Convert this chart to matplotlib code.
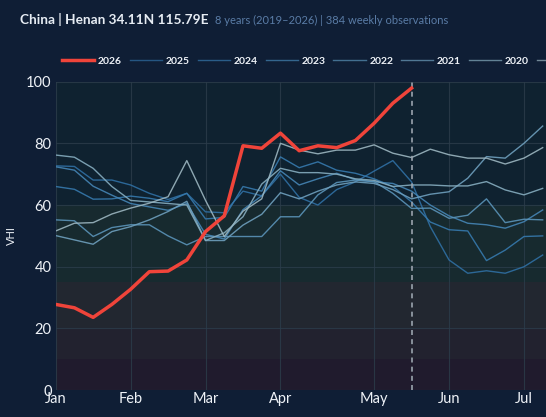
import numpy as np
import matplotlib.pyplot as plt
from matplotlib.lines import Line2D

# weekly VHI values, index 0 = first week of January
weeks_2026 = np.arange(20)
vhi_2026 = [27.8, 26.7, 23.6, 27.8, 32.7, 38.4, 38.6, 42.2, 51.4, 56.5,
            79.2, 78.4, 83.3, 77.6, 79.2, 78.6, 80.9, 86.5, 93.0, 97.9]

weeks_hist = np.arange(27)
vhi_2025 = [72.7, 72.5, 68.1, 68.1, 66.5, 63.8, 61.8, 63.8, 57.8, 57.5, 64.5, 63.0, 70.0, 62.5,
            60.0, 65.0, 67.5, 71.0, 74.4, 67.5, 53.0, 42.2, 37.9, 38.7, 37.9, 40.0, 43.8]
vhi_2024 = [66.0, 65.1, 61.9, 62.0, 62.9, 62.2, 61.1, 63.8, 55.5, 56.0, 66.0, 64.5, 75.6, 72.1,
            74.0, 71.3, 70.3, 68.5, 66.0, 61.0, 54.5, 52.0, 51.6, 42.0, 45.4, 49.8, 50.0]
vhi_2023 = [72.4, 71.3, 66.1, 63.2, 60.5, 59.4, 58.3, 60.5, 50.5, 49.0, 58.5, 63.0, 71.1, 66.5,
            68.5, 70.3, 68.2, 67.5, 67.0, 64.5, 60.0, 56.5, 54.1, 53.6, 52.5, 54.6, 58.4]
vhi_2022 = [55.2, 54.9, 49.8, 52.7, 53.6, 53.6, 50.0, 47.1, 49.8, 49.8, 49.8, 49.8, 56.2, 56.2,
            63.3, 67.3, 68.1, 67.6, 63.8, 58.9, 59.0, 55.7, 56.7, 62.0, 54.3, 55.4, 55.2]
vhi_2021 = [50.1, 48.7, 47.3, 51.4, 53.0, 55.2, 57.9, 61.2, 48.5, 48.5, 53.5, 57.0, 64.0, 62.0,
            64.5, 66.5, 67.5, 67.0, 65.0, 62.0, 63.5, 64.3, 68.7, 75.7, 75.2, 80.0, 85.6]
vhi_2020 = [76.2, 75.5, 71.9, 66.0, 61.5, 61.0, 60.5, 60.0, 48.5, 51.0, 56.2, 66.8, 71.9, 70.5,
            70.5, 70.0, 68.5, 68.0, 66.0, 66.5, 66.5, 66.2, 66.2, 67.6, 64.9, 63.3, 65.4]
vhi_2019 = [51.6, 54.1, 54.3, 57.1, 59.0, 60.6, 62.7, 74.4, 61.5, 49.8, 58.0, 62.0, 80.0, 77.8,
            76.6, 77.8, 77.8, 79.5, 76.8, 75.4, 78.1, 76.3, 75.2, 75.2, 73.3, 75.2, 78.6]

years = ["2025", "2024", "2023", "2022", "2021", "2020", "2019"]
history = [vhi_2025, vhi_2024, vhi_2023, vhi_2022, vhi_2021, vhi_2020, vhi_2019]
year_colors = ["#2f6fa3", "#3679ad", "#4585b5", "#5a93b8", "#6e9fbd", "#86adbf", "#9cb6c0"]

month_weeks = [0, 4, 8, 12, 17, 21, 25]
month_labels = ["Jan", "Feb", "Mar", "Apr", "May", "Jun", "Jul"]
current_week = 19

# VHI condition bands (lower, upper, colour)
bands = [(0, 10, "#201b2d"), (10, 20, "#22222f"), (20, 35, "#222730"),
         (35, 60, "#172a2f"), (60, 100, "#0f2230")]

plt.rcParams['font.family'] = ['Lato', 'DejaVu Sans']

fig = plt.figure(figsize=(5.46, 4.17), dpi=100)
fig.patch.set_facecolor("#0f1e35")
ax = fig.add_axes([0.102, 0.0643, 0.898, 0.740])
ax.set_facecolor("#0f2230")

for lo, hi, c in bands:
    ax.axhspan(lo, hi, color=c, lw=0, zorder=0)

handles = []
for yr, vals, c in zip(years, history, year_colors):
    ax.plot(weeks_hist, vals, color=c, lw=1.0, alpha=0.9, zorder=2)
    handles.append(Line2D([0], [0], color=c, lw=1.0, alpha=0.7, label=yr))

ax.plot(weeks_2026, vhi_2026, color="#f0443a", lw=2.5, zorder=4)
handles.insert(0, Line2D([0], [0], color="#f0443a", lw=2.5, label="2026"))

ax.axvline(current_week, color="#9aa3ad", lw=1.2, ls=(0, (3, 2.5)), zorder=3)

ax.set_xlim(0, (546 - 55.7) / 18.73)
ax.set_ylim(0, 100)
ax.set_xticks(month_weeks)
ax.set_xticklabels(month_labels)
ax.set_yticks([0, 20, 40, 60, 80, 100])
ax.tick_params(length=0, colors="#eef2f7", labelsize=10.5, pad=3)
ax.tick_params(axis="x", pad=1)
ax.grid(True, color="#2c3d4b", lw=0.8, alpha=0.8)
ax.set_axisbelow(True)
for s in ax.spines.values():
    s.set_visible(False)
ax.set_ylabel("VHI", color="#eef2f7", fontsize=8)
ax.yaxis.set_label_coords(-0.078, 0.5)

fig.text(20 / 546, 1 - 20 / 417, "China | Henan 34.11N 115.79E", color="#e6ecf3",
         fontsize=9.8, fontweight="bold", va="center", ha="left")
fig.text(215 / 546, 1 - 20 / 417, "8 years (2019\u20132026) | 384 weekly observations",
         color="#5a7ca6", fontsize=8.0, va="center", ha="left")

leg = fig.legend(handles=handles, loc="center left", bbox_to_anchor=(58 / 546, 1 - 61 / 417),
                 ncol=8, frameon=False, fontsize=7.5, handlelength=3.1, handletextpad=0.35,
                 columnspacing=0.75, borderaxespad=0)
for t in leg.get_texts():
    t.set_color("#eef2f7")
    t.set_fontweight("bold")

fig.savefig("out.png", dpi=100, facecolor=fig.get_facecolor())
